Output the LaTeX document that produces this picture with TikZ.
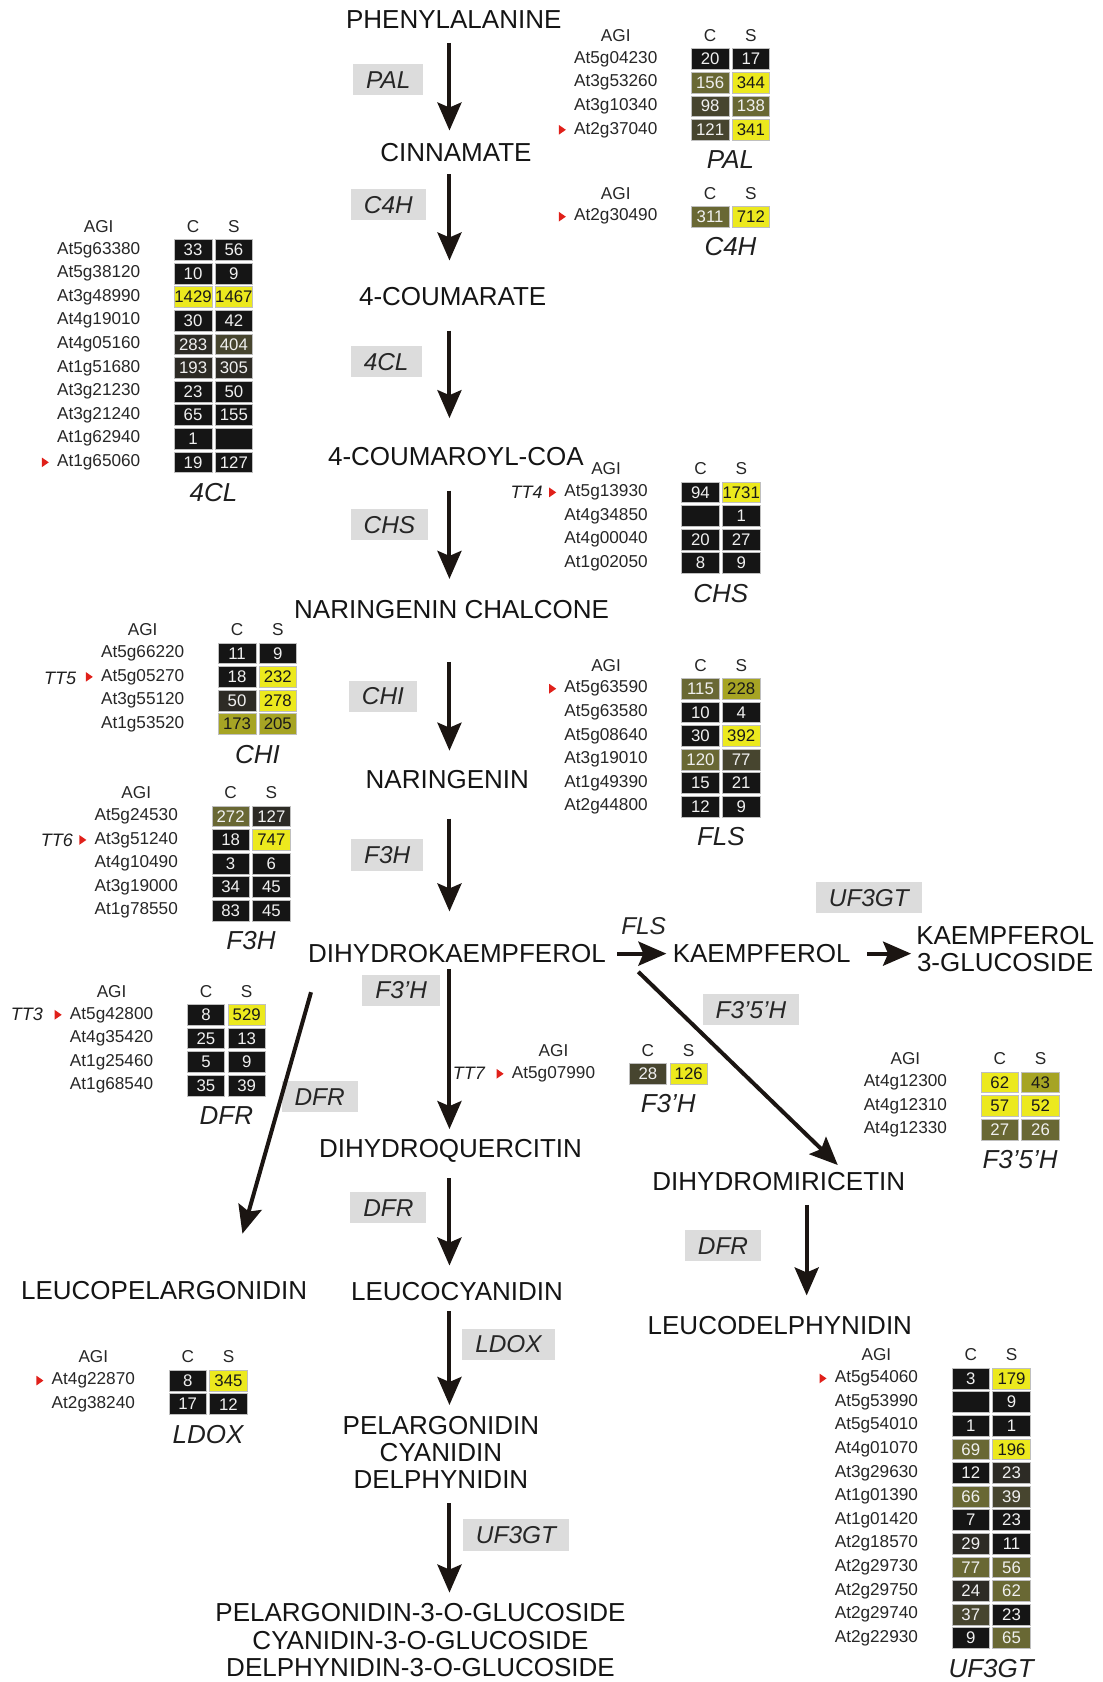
\documentclass[tikz,border=0pt]{standalone}
\usepackage{fontspec}
\setmainfont{Liberation Sans}
\usetikzlibrary{%
  positioning
 ,arrows.meta
}
\definecolor{lv0}{HTML}{151515}
\definecolor{lv1}{HTML}{2D2B25}
\definecolor{lv2}{HTML}{47452F}
\definecolor{lv3}{HTML}{696834}
\definecolor{lv4}{HTML}{A6A424}
\definecolor{lv5}{HTML}{ECE91E}
\colorlet{tx0}{white!94!black}
\colorlet{tx1}{white!94!black}
\colorlet{tx2}{white!94!black}
\colorlet{tx3}{white!94!black}
\colorlet{tx4}{black!90}
\colorlet{tx5}{black!90}
\definecolor{enzgray}{HTML}{DCDCDC}
\definecolor{arrowc}{HTML}{1B1512}
\definecolor{trired}{HTML}{E0201A}
\tikzstyle{cmpd}=[font=\fontsize{13}{13.6}\selectfont,align=center,inner sep=0pt,text=black!92]
\tikzstyle{enz}=[font=\fontsize{12.2}{13}\selectfont\itshape,fill=enzgray,inner xsep=6.5pt,inner ysep=3.4pt,text height=8.8pt,text depth=0pt,text=black!85]
\tikzstyle{enzlab}=[font=\fontsize{12.2}{13}\selectfont\itshape,inner sep=0pt,text=black!85]
\tikzstyle{flow}=[line width=2pt,draw=arrowc,-{Stealth[length=14pt,width=12pt,inset=2.5pt]}]
\tikzstyle{gaps}=[shorten <=#1]
\tikzstyle{gene}=[font=\fontsize{8.6}{10}\selectfont,inner sep=0pt,text=black!85]
\tikzstyle{hm}=[minimum width=18.8pt,minimum height=10.4pt,inner sep=0pt,font=\fontsize{8.4}{10}\selectfont,draw=black!25,line width=0.3pt]
\tikzstyle{capt}=[font=\fontsize{13}{14}\selectfont\itshape,inner sep=0pt,text=black!88]
\tikzstyle{tt}=[font=\fontsize{9}{10}\selectfont\itshape,inner sep=0pt,text=black!88]
\tikzstyle{tri}=[fill=trired]

% table: prefix, x of C column, y of header, caption, rows
\newcommand{\agitable}[5]{%
  \node[gene](#1-agi)at(#2-88,#3){AGI};
  \node[gene](#1-hc)at(#2,#3){C};
  \node[gene](#1-hs)at(#2+38,#3){S};
  \foreach \gn/\cv/\cc/\sv/\sc [count=\i] in {#5}{
    \node[gene](#1-g\i)at(#2-88,#3+22*\i){\gn};
    \node[hm,fill=lv\cc,text=tx\cc](#1-c\i)at(#2,#3+22*\i){\cv};
    \node[hm,fill=lv\sc,text=tx\sc](#1-s\i)at(#2+38,#3+22*\i){\sv};
    \xdef\lastrow{\i}}
  \node[capt](#1-cap)at(#2+19,#3+22*\lastrow+28){#4};}
\newcommand{\redmark}[1]{\fill[tri]([shift={(-50,0)}]#1.center) +(-3,-4.5) -- +(3.5,0) -- +(-3,4.5) -- cycle;}

\begin{document}
\begin{tikzpicture}[x=0.5365pt,y=-0.5365pt]
\useasboundingbox (0,0) rectangle (1028,1568);
% pathway
\node[cmpd](phe)at(423,18){PHENYLALANINE};
\node[cmpd](cin)at(425,142){CINNAMATE};
\node[cmpd](cou)at(422,276){4-COUMARATE};
\node[cmpd](coa)at(425,426){4-COUMAROYL-COA};
\node[cmpd](nch)at(421,568){NARINGENIN CHALCONE};
\node[cmpd](nar)at(417,727){NARINGENIN};
\node[cmpd](dhk)at(426,889){DIHYDROKAEMPFEROL};
\node[cmpd](kae)at(710,889){KAEMPFEROL};
\node[cmpd](k3g)at(937,885){KAEMPFEROL\\3-GLUCOSIDE};
\node[cmpd](dhq)at(420,1073){DIHYDROQUERCITIN};
\node[cmpd](dhm)at(726,1101){DIHYDROMIRICETIN};
\node[cmpd](lpg)at(153,1203){LEUCOPELARGONIDIN};
\node[cmpd](lcy)at(426,1204){LEUCOCYANIDIN};
\node[cmpd](ldp)at(727,1236){LEUCODELPHYNIDIN};
\node[cmpd](ant)at(411,1354){PELARGONIDIN\\CYANIDIN\\DELPHYNIDIN};
\node[cmpd](glc)at(392,1529){PELARGONIDIN-3-O-GLUCOSIDE\\CYANIDIN-3-O-GLUCOSIDE\\DELPHYNIDIN-3-O-GLUCOSIDE};
\coordinate(ax)at(419,0);
\coordinate(bx)at(752,0);
% enzymes
\node[enz](e-pal)at(362,74){PAL};
\node[enz](e-c4h)at(362,191){C4H};
\node[enz](e-4cl)at(360,337){4CL};
\node[enz](e-chs)at(363,489){CHS};
\node[enz](e-chi)at(357,649){CHI};
\node[enz](e-f3h)at(361,797){F3H};
\node[enz](e-f3ph)at(374,923){F3'H};
\node[enzlab](e-fls)at(600,863){FLS};
\node[enz](e-ugt1)at(810,837){UF3GT};
\node[enz](e-f35h)at(700,941){F3'5'H};
\node[enz](e-dfr1)at(298,1022){DFR};
\node[enz](e-dfr2)at(362,1126){DFR};
\node[enz](e-dfr3)at(674,1161){DFR};
\node[enz](e-ldox)at(474,1253){LDOX};
\node[enz](e-ugt2)at(481,1431){UF3GT};
% arrows
\draw[flow,shorten <=7.1pt,shorten >=6.1pt](phe.south -| ax)--(cin.north -| ax);
\draw[flow,shorten <=6.1pt,shorten >=13pt](cin.south -| ax)--(cou.north -| ax);
\draw[flow,shorten <=12.5pt,shorten >=14.6pt](cou.south -| ax)--(coa.north -| ax);
\draw[flow,shorten <=12pt,shorten >=10.4pt](coa.south -| ax)--(nch.north -| ax);
\draw[flow,shorten <=21.5pt,shorten >=9.8pt](nch.south -| ax)--(nar.north -| ax);
\draw[flow,shorten <=14.6pt,shorten >=16.3pt](nar.south -| ax)--(dhk.north -| ax);
\draw[flow,shorten <=2.8pt,shorten >=5pt](dhk.south -| ax)--(dhq.north -| ax);
\draw[flow,shorten <=7.7pt,shorten >=8.2pt](dhq.south -| ax)--(lcy.north -| ax);
\draw[flow,shorten <=5pt,shorten >=5.4pt](lcy.south -| ax)--(ant.north -| ax);
\draw[flow,shorten <=7pt,shorten >=5.4pt](ant.south -| ax)--(glc.north -| ax);
\draw[flow,shorten <=7.1pt,shorten >=10.4pt](dhm.south -| bx)--(ldp.north -| bx);
\draw[flow,shorten <=5.6pt,shorten >=3pt](dhk.east)--(kae.west);
\draw[flow,shorten <=8.3pt,shorten >=2.4pt](kae.east)--(kae.east -| k3g.west);
\draw[flow]([shift={(30,8)}]dhk.south east)--([shift={(55,-6)}]dhm.north);
\draw[flow]([shift={(3,27)}]dhk.south west)--([shift={(73,-44)}]lpg.north);
% tables
\agitable{pal}{662}{33}{PAL}{At5g04230/20/0/17/0,At3g53260/156/3/344/5,At3g10340/98/2/138/3,At2g37040/121/2/341/5}
\agitable{c4h}{662}{180}{C4H}{At2g30490/311/3/712/5}
\agitable{cl4}{180}{211}{4CL}{At5g63380/33/0/56/0,At5g38120/10/0/9/0,At3g48990/1429/5/1467/5,At4g19010/30/0/42/0,At4g05160/283/1/404/2,At1g51680/193/1/305/1,At3g21230/23/0/50/0,At3g21240/65/0/155/0,At1g62940/1/0//0,At1g65060/19/0/127/0}
\agitable{chs}{653}{437}{CHS}{At5g13930/94/0/1731/5,At4g34850//0/1/0,At4g00040/20/0/27/0,At1g02050/8/0/9/0}
\agitable{chi}{221}{587}{CHI}{At5g66220/11/0/9/0,At5g05270/18/0/232/5,At3g55120/50/1/278/5,At1g53520/173/4/205/4}
\agitable{fth}{215}{739}{F3H}{At5g24530/272/3/127/1,At3g51240/18/0/747/5,At4g10490/3/0/6/0,At3g19000/34/0/45/0,At1g78550/83/0/45/0}
\agitable{fls}{653}{620}{FLS}{At5g63590/115/3/228/4,At5g63580/10/0/4/0,At5g08640/30/0/392/5,At3g19010/120/3/77/2,At1g49390/15/0/21/0,At2g44800/12/0/9/0}
\agitable{dfr}{192}{924}{DFR}{At5g42800/8/0/529/5,At4g35420/25/0/13/0,At1g25460/5/0/9/0,At1g68540/35/0/39/0}
\agitable{fph}{604}{979}{F3'H}{At5g07990/28/2/126/5}
\agitable{ffh}{932}{987}{F3'5'H}{At4g12300/62/5/43/4,At4g12310/57/5/52/5,At4g12330/27/3/26/3}
\agitable{ldx}{175}{1265}{LDOX}{At4g22870/8/0/345/5,At2g38240/17/0/12/0}
\agitable{ugt}{905}{1263}{UF3GT}{At5g54060/3/0/179/5,At5g53990//0/9/0,At5g54010/1/0/1/0,At4g01070/69/3/196/5,At3g29630/12/0/23/1,At1g01390/66/3/39/2,At1g01420/7/0/23/0,At2g18570/29/1/11/0,At2g29730/77/3/56/3,At2g29750/24/1/62/3,At2g29740/37/2/23/0,At2g22930/9/0/65/3}
% mutants
\redmark{pal-g4}\redmark{c4h-g1}\redmark{cl4-g10}\redmark{chs-g1}\redmark{chi-g2}\redmark{fth-g2}
\redmark{fls-g1}\redmark{dfr-g1}\redmark{fph-g1}\redmark{ldx-g1}\redmark{ugt-g1}
\node[tt](tt4)at(491,459){TT4};
\node[tt](tt5)at(56,632){TT5};
\node[tt](tt6)at(53,783){TT6};
\node[tt](tt3)at(25,946){TT3};
\node[tt](tt7)at(437,1001){TT7};
\end{tikzpicture}
\end{document}
